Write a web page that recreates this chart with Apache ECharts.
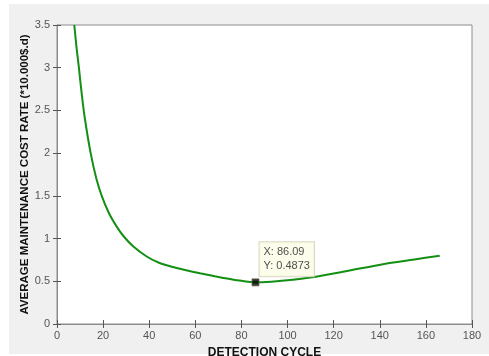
<!DOCTYPE html>
<html>
<head>
<meta charset="utf-8">
<style>
  html, body { margin: 0; padding: 0; background: #fff; }
  #chart { width: 489px; height: 356px; }
</style>
<script src="https://cdn.jsdelivr.net/npm/echarts@6/dist/echarts.min.js"></script>
</head>
<body>
<div id="chart"></div>
<script>
// detection cycle vs. average maintenance cost rate
const cycles = [7.5, 8.5, 9.5, 10.7, 12, 14.6, 17, 19.4, 22.5, 25.9, 28.8, 33, 38.9, 44, 49.8, 56, 62, 68.5, 75, 80, 86.09, 93, 100, 110, 124, 141.4, 155, 166];
const costRate = [3.5, 3.23, 3.0, 2.7, 2.42, 2.0, 1.71, 1.5, 1.3, 1.14, 1.03, 0.91, 0.79, 0.72, 0.67, 0.63, 0.595, 0.56, 0.527, 0.505, 0.4873, 0.495, 0.512, 0.545, 0.611, 0.7, 0.755, 0.8];
const tipPoint = [86.09, 0.4873];
const xTicks = [0, 20, 40, 60, 80, 100, 120, 140, 160, 180];
const yTicks = [0, 0.5, 1, 1.5, 2, 2.5, 3, 3.5];

const chart = echarts.init(document.getElementById('chart'));
const font = 'Liberation Sans, Arial, sans-serif';
const boxColor = '#8c8c8c';

function axisBase(showLabels) {
  return {
    axisLine: { show: true, lineStyle: { color: boxColor, width: 1 } },
    axisTick: { show: true, inside: true, length: 4, lineStyle: { color: '#555' } },
    axisLabel: { show: showLabels, color: '#555', fontFamily: font, fontSize: 11 },
    splitLine: { show: false }
  };
}

chart.setOption({
  animation: false,
  graphic: [{
    type: 'rect', z: -10, silent: true,
    shape: { x: 9, y: 4, width: 480, height: 350 },
    style: { fill: '#f0f0f0' }
  }],
  grid: {
    left: 57, right: 17, top: 25, bottom: 32,
    outerBoundsMode: 'none',
    containLabel: false,
    show: true, backgroundColor: '#fff', borderColor: boxColor, borderWidth: 1
  },
  xAxis: [
    Object.assign(axisBase(true), {
      type: 'value', min: 0, max: 180, interval: 20, position: 'bottom',
      name: 'DETECTION CYCLE', nameLocation: 'middle', nameGap: 23, nameMoveOverlap: false,
      nameTextStyle: { color: '#111', fontWeight: 'bold', fontFamily: font, fontSize: 12 },
      axisLabel: { show: true, color: '#555', fontFamily: font, fontSize: 11, margin: 6,
        formatter: v => xTicks.includes(v) ? String(v) : '' }
    }),
    Object.assign(axisBase(false), {
      type: 'value', min: 0, max: 180, interval: 20, position: 'top'
    })
  ],
  yAxis: [
    Object.assign(axisBase(true), {
      type: 'value', min: 0, max: 3.5, interval: 0.5, position: 'left',
      name: 'AVERAGE MAINTENANCE COST RATE (*10.000$.d)', nameLocation: 'middle', nameGap: 26, nameMoveOverlap: false,
      nameTextStyle: { color: '#111', fontWeight: 'bold', fontFamily: font, fontSize: 11.5 },
      axisLabel: { show: true, color: '#555', fontFamily: font, fontSize: 11, margin: 7,
        formatter: v => yTicks.includes(v) ? String(v) : '' }
    }),
    Object.assign(axisBase(false), {
      type: 'value', min: 0, max: 3.5, interval: 0.5, position: 'right'
    })
  ],
  series: [
    {
      type: 'line',
      data: cycles.map((c, i) => [c, costRate[i]]),
      smooth: 0.3,
      showSymbol: false,
      clip: true,
      lineStyle: { color: '#138f13', width: 2 }
    },
    {
      type: 'scatter',
      data: [tipPoint],
      symbol: 'rect',
      symbolSize: 7,
      itemStyle: { color: '#000', borderColor: '#6b6b4f', borderWidth: 1 },
      z: 5,
      label: {
        show: true,
        position: [8, -36],
        align: 'left',
        verticalAlign: 'top',
        formatter: p => 'X: ' + p.value[0] + '\nY: ' + p.value[1],
        color: '#222',
        fontFamily: font,
        fontSize: 11,
        lineHeight: 14,
        backgroundColor: '#fdfde6',
        borderColor: '#cfcfb8',
        borderWidth: 1,
        padding: [3, 4, 3, 4]
      }
    }
  ]
});
</script>
</body>
</html>
